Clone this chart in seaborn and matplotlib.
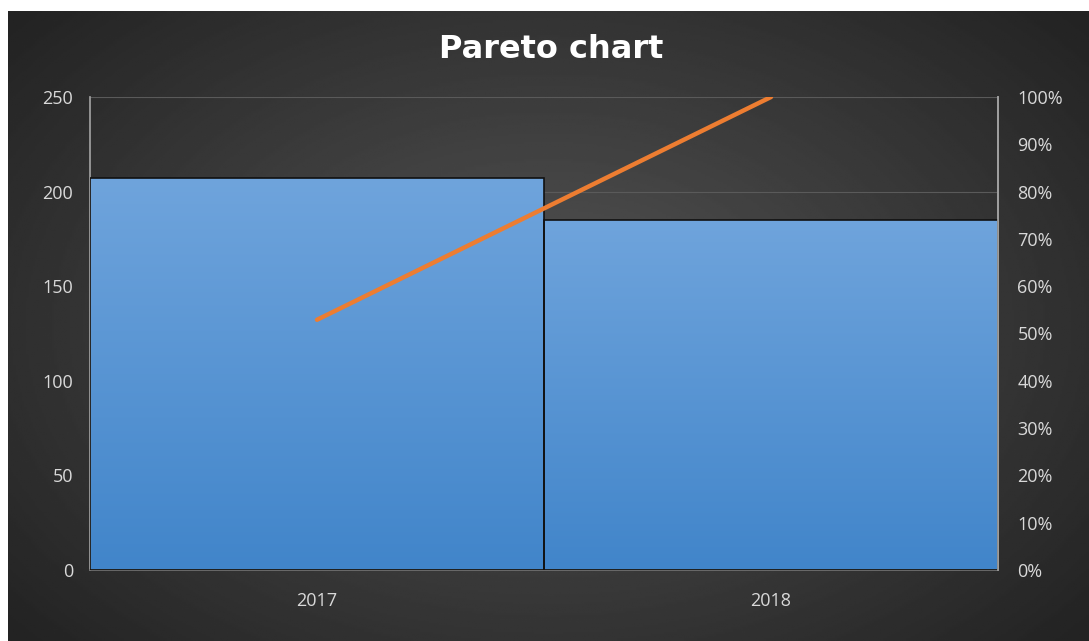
import numpy as np
import pandas as pd
import matplotlib.pyplot as plt
import seaborn as sns
from matplotlib.ticker import PercentFormatter
from matplotlib.colors import LinearSegmentedColormap

# datos
years = ["2017", "2018"]
counts = [207, 185]
cum_pct = [0.529, 1.0]

df = pd.DataFrame({"year": years, "count": counts, "cum": cum_pct})

sns.set_theme(style="dark")
plt.rcParams["font.family"] = ["Open Sans", "DejaVu Sans"]

fig = plt.figure(figsize=(10.89, 6.41), dpi=100)
fig.patch.set_facecolor("white")

# fondo oscuro con degradado radial
bg = fig.add_axes([8 / 1089, 0, 1 - 8 / 1089, 1 - 11 / 641])
yy, xx = np.mgrid[0:1:300j, 0:1:500j]
r = np.sqrt(((xx - 0.5) / 0.75) ** 2 + ((yy - 0.5) / 0.85) ** 2)
val = np.clip(0.33 - 0.22 * r, 0.14, 0.33)
bg.imshow(val, cmap="gray", vmin=0, vmax=1, aspect="auto", extent=[0, 1, 0, 1])
bg.set_axis_off()

ax = fig.add_axes([90 / 1089, 71 / 641, 908 / 1089, 473 / 641])
ax.set_facecolor("none")
sns.barplot(data=df, x="year", y="count", width=1.0, color="#5b9bd5",
            edgecolor="#111111", linewidth=1.2, ax=ax, zorder=2)

# degradado en las barras
grad = np.linspace(0, 1, 256).reshape(-1, 1)
cmap_bar = LinearSegmentedColormap.from_list("bar", ["#4185ca", "#6fa4dc"])
for p in ax.patches:
    x0, y0 = p.get_x(), p.get_y()
    w, h = p.get_width(), p.get_height()
    im = ax.imshow(grad, cmap=cmap_bar, aspect="auto", origin="lower",
                   extent=[x0, x0 + w, y0, y0 + h], zorder=2.5)
    im.set_clip_path(p)
    p.set_facecolor("none")
    p.set_zorder(3)

ax.set_xlim(-0.5, 1.5)
ax.set_ylim(0, 250)
ax.set_yticks(range(0, 251, 50))
ax.grid(axis="y", color="#5a5a5a", linewidth=0.8, zorder=0)
ax.grid(axis="x", visible=False)
ax.set_xlabel("")
ax.set_ylabel("")
ax.tick_params(axis="y", colors="#d9d9d9", labelsize=13, pad=12, length=0)
ax.tick_params(axis="x", colors="#d9d9d9", labelsize=13, pad=16, length=0)
ax.spines["top"].set_visible(False)
ax.spines["left"].set_color("#a0a0a0")
ax.spines["right"].set_color("#a0a0a0")
ax.spines["bottom"].set_color("#707070")
ax.set_autoscale_on(False)

ax2 = ax.twinx()
sns.lineplot(data=df, x="year", y="cum", color="#ed7d31", linewidth=3.2,
             ax=ax2, zorder=5)
ax2.set_ylim(0, 1)
ax2.set_yticks(np.arange(0, 1.01, 0.1))
ax2.yaxis.set_major_formatter(PercentFormatter(1.0, decimals=0))
ax2.tick_params(axis="y", colors="#d9d9d9", labelsize=13, pad=14, length=0)
ax2.set_ylabel("")
ax2.grid(False)
for s in ax2.spines.values():
    s.set_visible(False)
ax2.spines["right"].set_visible(True)
ax2.spines["right"].set_color("#a0a0a0")

fig.text(551 / 1089, 1 - 50 / 641, "Pareto chart", color="white",
         fontsize=23, fontweight="bold", ha="center", va="center",
         family="DejaVu Sans")

fig.savefig("out.png", dpi=100)
